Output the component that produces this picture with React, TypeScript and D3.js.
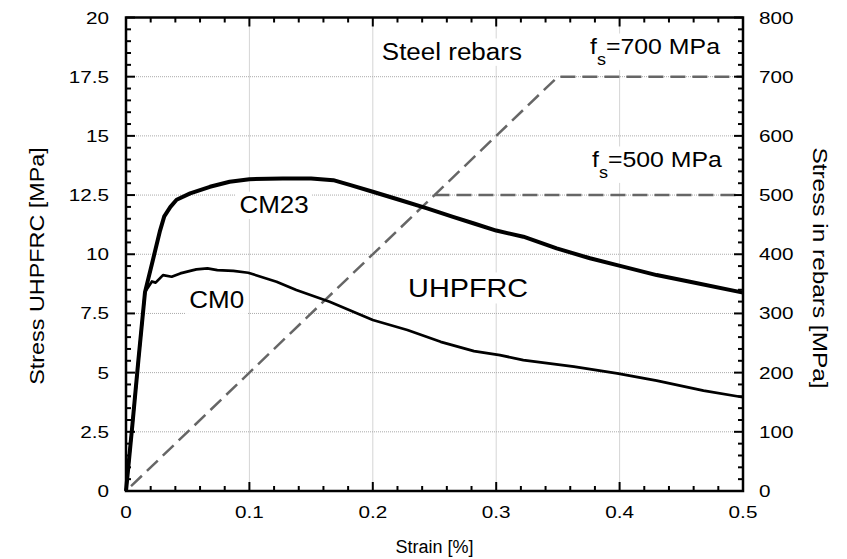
import React, { useRef, useLayoutEffect, useState } from 'react'
import * as d3 from 'd3'

// CM23 specimen (thick curve)
const strainCM23 = [0, 0.005, 0.01, 0.0154, 0.022, 0.0276, 0.031, 0.036, 0.041, 0.052, 0.068, 0.084, 0.1, 0.127, 0.15, 0.168, 0.182, 0.2, 0.222, 0.244, 0.265, 0.282, 0.3, 0.322, 0.349, 0.376, 0.398, 0.43, 0.457, 0.5]
const stressCM23 = [0, 2.7, 5.5, 8.4, 9.8, 11.0, 11.6, 12.0, 12.3, 12.57, 12.85, 13.06, 13.17, 13.2, 13.2, 13.13, 12.92, 12.64, 12.29, 11.94, 11.58, 11.3, 11.0, 10.74, 10.25, 9.83, 9.54, 9.12, 8.84, 8.38]

// CM0 specimen (thin curve)
const strainCM0 = [0, 0.005, 0.01, 0.0154, 0.021, 0.024, 0.03, 0.037, 0.044, 0.057, 0.066, 0.074, 0.087, 0.099, 0.122, 0.138, 0.165, 0.2, 0.228, 0.255, 0.282, 0.303, 0.322, 0.363, 0.398, 0.43, 0.468, 0.5]
const stressCM0 = [0, 2.7, 5.5, 8.4, 8.85, 8.8, 9.12, 9.05, 9.19, 9.36, 9.4, 9.33, 9.3, 9.22, 8.84, 8.49, 7.99, 7.22, 6.8, 6.3, 5.91, 5.74, 5.53, 5.25, 4.97, 4.66, 4.24, 3.96]

// steel rebars, bilinear (right axis, MPa)
const rebarStrain700 = [0, 0.35, 0.5]
const rebarStress700 = [0, 700, 700]
const rebarStrain500 = [0.25, 0.5]
const rebarStress500 = [500, 500]

const xTicks = [0, 0.1, 0.2, 0.3, 0.4, 0.5]
const xTickLabels = ['0', '0.1', '0.2', '0.3', '0.4', '0.5']
const yTicks = [0, 2.5, 5, 7.5, 10, 12.5, 15, 17.5, 20]
const yTickLabels = ['0', '2.5', '5', '7.5', '10', '12.5', '15', '17.5', '20']
const y2Ticks = [0, 100, 200, 300, 400, 500, 600, 700, 800]

const width = 847
const height = 559
const marginLeft = 126
const marginRight = 104
const marginTop = 17.5
const marginBottom = 68

const font = '"Liberation Sans", Arial, sans-serif'
const sx = 1.13 // the original text is a bit wider than Arial

function Label({ x, y, size, children }) {
  const ref = useRef(null)
  const [box, setBox] = useState(null)
  useLayoutEffect(() => {
    if (ref.current) setBox(ref.current.getBBox())
  }, [])
  return (
    <g transform={`translate(${x},${y}) scale(${sx},1)`}>
      {box && <rect x={box.x - 3} y={box.y - 1} width={box.width + 6} height={box.height + 2} fill="white" />}
      <text ref={ref} fontSize={size} fontFamily={font} fill="black">{children}</text>
    </g>
  )
}

function Fs({ value }) {
  return (
    <>
      f<tspan dy="11" fontSize="16">s</tspan><tspan dy="-11">={value} MPa</tspan>
    </>
  )
}

export default function App() {
  const x = d3.scaleLinear().domain([0, 0.5]).range([marginLeft, width - marginRight])
  const y = d3.scaleLinear().domain([0, 20]).range([height - marginBottom, marginTop])
  const y2 = d3.scaleLinear().domain([0, 800]).range([height - marginBottom, marginTop])

  const line = d3.line().x(d => x(d[0])).y(d => y(d[1]))
  const line2 = d3.line().x(d => x(d[0])).y(d => y2(d[1]))

  const cm23 = strainCM23.map((s, i) => [s, stressCM23[i]])
  const cm0 = strainCM0.map((s, i) => [s, stressCM0[i]])
  const r700 = rebarStrain700.map((s, i) => [s, rebarStress700[i]])
  const r500 = rebarStrain500.map((s, i) => [s, rebarStress500[i]])

  const x0 = x(0), x1 = x(0.5), yb = y(0), yt = y(20)
  const xMinor = d3.range(0, 0.5001, 0.02)
  const yMinor = d3.range(0, 20.001, 0.5)
  const y2Minor = d3.range(0, 800.1, 20)

  return (
    <svg width={width} height={height} style={{ position: 'absolute', left: 0, top: 0, background: 'white' }}>
      {/* grid */}
      <g stroke="#aaa" strokeWidth="1" strokeDasharray="1,1">
        {xTicks.slice(1, -1).map(t => <line key={'gx' + t} x1={x(t)} x2={x(t)} y1={yt} y2={yb} />)}
        {yTicks.slice(1, -1).map(t => <line key={'gy' + t} x1={x0} x2={x1} y1={y(t)} y2={y(t)} />)}
      </g>

      {/* labels with white boxes */}
      <Label x={x(0.2073)} y={y(18.2)} size={23}>Steel rebars</Label>
      <Label x={x(0.376)} y={y(18.45)} size={22}><Fs value={700} /></Label>
      <Label x={x(0.3776)} y={y(13.68)} size={22}><Fs value={500} /></Label>
      <Label x={x(0.0919)} y={y(11.73)} size={23}>CM23</Label>
      <Label x={x(0.0513)} y={y(7.72)} size={23}>CM0</Label>
      <Label x={x(0.2286)} y={y(8.2)} size={25.5}>UHPFRC</Label>

      {/* rebars */}
      <g fill="none" stroke="#666" strokeWidth="2.5" strokeDasharray="15,7">
        <path d={line2(r700)} strokeDashoffset="-7" />
        <path d={line2(r500)} />
      </g>

      {/* UHPFRC curves */}
      <path d={line(cm0)} fill="none" stroke="black" strokeWidth="2.7" strokeLinejoin="round" />
      <path d={line(cm23)} fill="none" stroke="black" strokeWidth="4" strokeLinejoin="round" />

      {/* ticks */}
      <g stroke="black" strokeWidth="2">
        {xMinor.map(t => {
          const major = Math.abs(t * 10 - Math.round(t * 10)) < 1e-6
          const len = major ? 9 : 5
          return (
            <g key={'xt' + t}>
              <line x1={x(t)} x2={x(t)} y1={yb} y2={yb - len} />
              <line x1={x(t)} x2={x(t)} y1={yt} y2={yt + len} />
            </g>
          )
        })}
        {yMinor.map(t => {
          const major = Math.abs(t / 2.5 - Math.round(t / 2.5)) < 1e-6
          return <line key={'yt' + t} x1={x0} x2={x0 + (major ? 9 : 5)} y1={y(t)} y2={y(t)} />
        })}
        {y2Minor.map(t => {
          const major = t % 100 === 0
          return <line key={'y2t' + t} x1={x1} x2={x1 - (major ? 9 : 5)} y1={y2(t)} y2={y2(t)} />
        })}
      </g>

      {/* frame */}
      <rect x={x0} y={yt} width={x1 - x0} height={yb - yt} fill="none" stroke="black" strokeWidth="2.5" />

      {/* tick labels */}
      <g fontFamily={font} fontSize="17" fill="black">
        {xTicks.map((t, i) => (
          <text key={'xl' + t} transform={`translate(${x(t)},${yb + 27}) scale(1.22,1)`} textAnchor="middle">{xTickLabels[i]}</text>
        ))}
        {yTicks.map((t, i) => (
          <text key={'yl' + t} transform={`translate(${x0 - 17},${y(t) + 6}) scale(1.22,1)`} textAnchor="end">{yTickLabels[i]}</text>
        ))}
        {y2Ticks.map(t => (
          <text key={'y2l' + t} transform={`translate(${x1 + 16},${y2(t) + 6}) scale(1.22,1)`} textAnchor="start">{t}</text>
        ))}
      </g>

      {/* axis titles */}
      <g fontFamily={font} fill="black">
        <text x={(x0 + x1) / 2} y={553} fontSize="18" textAnchor="middle">Strain [%]</text>
        <text transform={`translate(44,266) rotate(-90) scale(1.2,1)`} fontSize="19.5" textAnchor="middle">Stress UHPFRC [MPa]</text>
        <text transform={`translate(813,268) rotate(90) scale(1.25,1)`} fontSize="19.5" textAnchor="middle">Stress in rebars [MPa]</text>
      </g>
    </svg>
  )
}
